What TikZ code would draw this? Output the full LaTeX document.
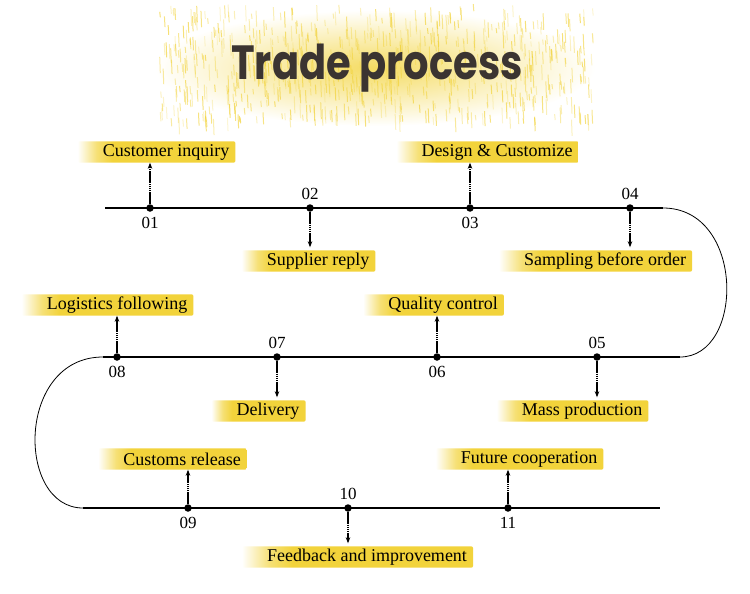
\documentclass[tikz,border=0pt]{standalone}
\usepackage{fontspec}
\setmainfont{Liberation Serif}
\newfontfamily\titlefont{Poppins}
\usetikzlibrary{arrows.meta, positioning, backgrounds}
\definecolor{brushyellow}{HTML}{F2D33B}
\definecolor{titleink}{HTML}{3B3431}
\pgfdeclarehorizontalshading{brush}{100bp}{color(0bp)=(white); color(25bp)=(white); color(31bp)=(brushyellow!70); color(36bp)=(brushyellow); color(100bp)=(brushyellow)}

\begin{document}
\begin{tikzpicture}[x=1pt, y=-1pt,
  dot/.style={circle, fill=black, inner sep=0pt, minimum size=7.5pt},
  num/.style={font=\fontsize{17}{17}\selectfont, inner sep=1pt},
  stage/.style={font=\fontsize{18}{18}\selectfont, inner xsep=3pt, inner ysep=1pt, minimum height=21pt},
  arr/.style={dash pattern=on 1.6pt off 0.5pt, line width=1.2pt, -{Stealth[length=6pt, width=4.5pt]}},
  track/.style={line width=1.3pt},
  curveline/.style={line width=0.8pt}
]
  \useasboundingbox (0,0) rectangle (750,594);

  % title background
  \shade[inner color=brushyellow!80, outer color=white] (375,68) ellipse (220 and 58);
  \pgfmathsetseed{42}
  \foreach \i in {1,...,700}{
    \pgfmathsetmacro{\tx}{375+218*rand}
    \pgfmathsetmacro{\ty}{62+58*rand}
    \pgfmathsetmacro{\tl}{5+12*rnd}
    \pgfmathsetmacro{\sop}{0.2+0.5*rnd}
    \draw[brushyellow, line width=1pt, opacity=\sop] (\tx,\ty) -- ++(0.6,\tl);
  }
  \node[font=\titlefont\bfseries\fontsize{40}{40}\selectfont, text=titleink, yscale=1.2, transform shape] (title) at (377,68) {Trade process};

  % track
  \draw[track] (105,208) -- (663,208);
  \draw[curveline] (663,208) .. controls (745,208) and (745,357) .. (680,357);
  \draw[track] (680,357) -- (103,357);
  \draw[curveline] (103,357) .. controls (16,357) and (16,508) .. (83,508);
  \draw[track] (83,508) -- (660,508);

  % stations
  \node[dot] (p01) at (150,208) {};
  \node[dot] (p02) at (310,208) {};
  \node[dot] (p03) at (470,208) {};
  \node[dot] (p04) at (630,208) {};
  \node[dot] (p05) at (597,357) {};
  \node[dot] (p06) at (437,357) {};
  \node[dot] (p07) at (277,357) {};
  \node[dot] (p08) at (117,357) {};
  \node[dot] (p09) at (188,508) {};
  \node[dot] (p10) at (348,508) {};
  \node[dot] (p11) at (508,508) {};

  \node[num, below=4pt of p01] (n01) {01};
  \node[num, above=3pt of p02] (n02) {02};
  \node[num, below=4pt of p03] (n03) {03};
  \node[num, above=3pt of p04] (n04) {04};
  \node[num, above=3pt of p05] (n05) {05};
  \node[num, below=4pt of p06] (n06) {06};
  \node[num, above=3pt of p07] (n07) {07};
  \node[num, below=4pt of p08] (n08) {08};
  \node[num, below=4pt of p09] (n09) {09};
  \node[num, above=3pt of p10] (n10) {10};
  \node[num, below=4pt of p11] (n11) {11};

  \node[stage] (s01) at (166,152) {Customer inquiry};
  \node[stage] (s02) at (318,261) {Supplier reply};
  \node[stage] (s03) at (497,152) {Design \& Customize};
  \node[stage] (s04) at (605,261) {Sampling before order};
  \node[stage] (s05) at (582,411) {Mass production};
  \node[stage] (s06) at (443,305) {Quality control};
  \node[stage] (s07) at (268,411) {Delivery};
  \node[stage] (s08) at (117,305) {Logistics following};
  \node[stage] (s09) at (182,459) {Customs release};
  \node[stage] (s10) at (367,557) {Feedback and improvement};
  \node[stage] (s11) at (529,459) {Future cooperation};

  % brush strokes behind the labels
  \begin{scope}[on background layer]
    \foreach \n in {01,02,03,04,05,06,07,08,09,10,11}
      \shade[shading=brush, rounded corners=2pt] ([xshift=-22pt]s\n.south west) rectangle ([xshift=3pt]s\n.north east);
  \end{scope}

  \draw[arr] (p01) -- (p01 |- s01.south);
  \draw[arr, shorten >=3pt] (p02) -- (p02 |- s02.north);
  \draw[arr] (p03) -- (p03 |- s03.south);
  \draw[arr, shorten >=3pt] (p04) -- (p04 |- s04.north);
  \draw[arr, shorten >=3pt] (p05) -- (p05 |- s05.north);
  \draw[arr] (p06) -- (p06 |- s06.south);
  \draw[arr, shorten >=3pt] (p07) -- (p07 |- s07.north);
  \draw[arr] (p08) -- (p08 |- s08.south);
  \draw[arr] (p09) -- (p09 |- s09.south);
  \draw[arr, shorten >=3pt] (p10) -- (p10 |- s10.north);
  \draw[arr] (p11) -- (p11 |- s11.south);
\end{tikzpicture}
\end{document}
